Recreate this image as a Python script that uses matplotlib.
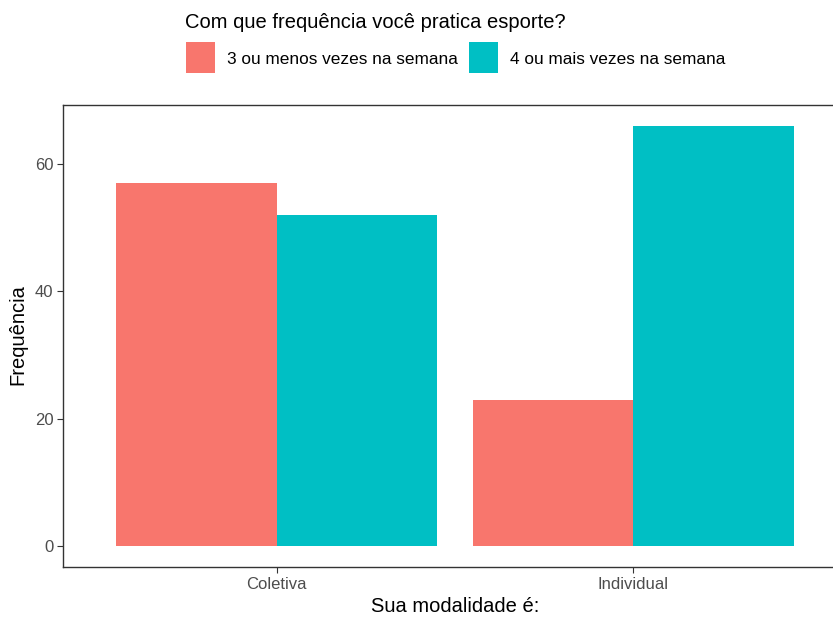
import matplotlib
matplotlib.use('Agg')
import matplotlib.pyplot as plt
from matplotlib.patches import Rectangle
import numpy as np

categories = ['Coletiva', 'Individual']
series_names = ['3 ou menos vezes na semana', '4 ou mais vezes na semana']
values_3_ou_menos = [57, 23]
values_4_ou_mais = [52, 66]
colors = ['#F8766D', '#00BFC4']
yticks = [0, 20, 40, 60]
legend_title = 'Com que frequência você pratica esporte?'
x_title = 'Sua modalidade é:'
y_title = 'Frequência'

plt.rcParams['font.family'] = ['Liberation Sans', 'DejaVu Sans']

W, H = 833, 619
fig = plt.figure(figsize=(W / 100, H / 100), dpi=100)


def fx(px):
    return px / W


def fy(py):
    return 1 - py / H


left, right, top, bottom = 63, 847, 105, 567
ax = fig.add_axes([fx(left), fy(bottom), (right - left) / W, (bottom - top) / H])
x = np.arange(1, len(categories) + 1)
w = 0.45
ax.bar(x - w / 2, values_3_ou_menos, width=w, color=colors[0], linewidth=0)
ax.bar(x + w / 2, values_4_ou_mais, width=w, color=colors[1], linewidth=0)
ax.set_xlim(0.4, len(categories) + 0.6)
ymax = max(max(values_3_ou_menos), max(values_4_ou_mais))
ax.set_ylim(-0.05 * ymax, 1.05 * ymax)
ax.set_xticks(x)
ax.set_xticklabels(categories)
ax.set_yticks(yticks)
ax.set_yticklabels([str(t) for t in yticks])

for s in ax.spines.values():
    s.set_color('#333333')
    s.set_linewidth(1.0)
ax.tick_params(axis='both', colors='#333333', length=4, width=0.8,
               labelsize=12, labelcolor='#4D4D4D')
ax.tick_params(axis='x', pad=3)
ax.tick_params(axis='y', pad=3)

fig.text(fx(455), fy(607), x_title, ha='center', va='center', fontsize=14.5, color='black')
fig.text(fx(18), fy(335), y_title, ha='center', va='center', rotation=90, fontsize=14.5, color='black')

# legend
fig.text(fx(185), fy(23), legend_title, ha='left', va='center', fontsize=14.5, color='black')
key_x = [186, 469]
lab_x = [227, 510]
for i in range(len(series_names)):
    fig.patches.append(Rectangle((fx(key_x[i]), fy(73)), 29 / W, 31 / H,
                                 transform=fig.transFigure, facecolor=colors[i],
                                 edgecolor='none'))
    fig.text(fx(lab_x[i]), fy(59), series_names[i], ha='left', va='center',
             fontsize=12.4, color='black')

fig.savefig('out.png', dpi=100)
